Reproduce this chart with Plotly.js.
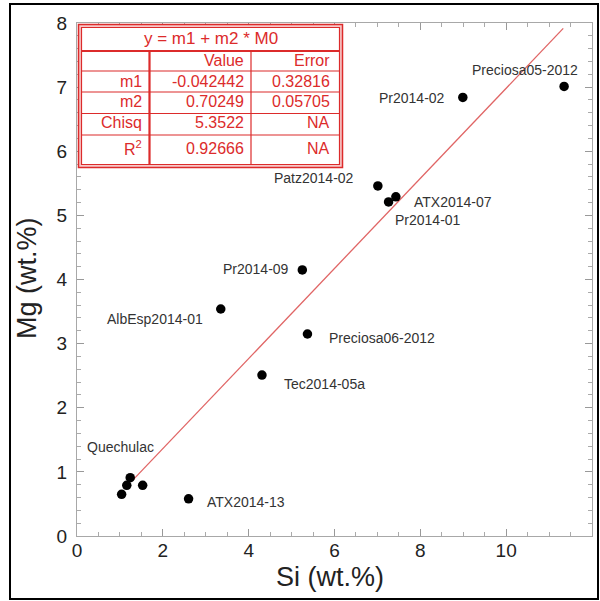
<!DOCTYPE html>
<html>
<head>
<meta charset="utf-8">
<script src="https://cdn.plot.ly/plotly-3.0.1.min.js"></script>
<style>html,body{margin:0;padding:0;background:#fff;}#chart{width:600px;height:601px;}</style>
</head>
<body>
<div id="chart"></div>
<script>
// ---- data ----
const sampleNames = ["Preciosa05-2012","Pr2014-02","Patz2014-02","ATX2014-07","Pr2014-01","Pr2014-09",
  "AlbEsp2014-01","Preciosa06-2012","Tec2014-05a","Quechulac","Quechulac","Quechulac","Quechulac","ATX2014-13"];
const siValues = [11.35, 8.99, 7.01, 7.43, 7.26, 5.25, 3.35, 5.37, 4.31, 1.24, 1.16, 1.04, 1.53, 2.60];
const mgValues = [7.01, 6.84, 5.46, 5.29, 5.21, 4.15, 3.54, 3.15, 2.51, 0.91, 0.79, 0.65, 0.79, 0.58];
const pointLabels = ["Preciosa05-2012","Pr2014-02","Patz2014-02","ATX2014-07","Pr2014-01","Pr2014-09",
  "AlbEsp2014-01","Preciosa06-2012","Tec2014-05a","Quechulac","","","","ATX2014-13"];
const fitM1 = -0.042442;
const fitM2 = 0.70249;
const fitXRange = [1.3, 11.33];
const tableHeader = ["", "Value", "Error"];
const tableRowNames = ["m1", "m2", "Chisq", "R<sup>2</sup>"];
const tableValues = ["-0.042442", "0.70249", "5.3522", "0.92666"];
const tableErrors = ["0.32816", "0.05705", "NA", "NA"];
const tableTitle = "y = m1 + m2 * M0";
const xTitle = "Si (wt.%)";
const yTitle = "Mg (wt.%)";

// ---- label placement (style) ----
const labelStyle = [
  {anchor:"right", dx:16, dy:16.7},
  {anchor:"right", dx:-16, dy:-1},
  {anchor:"right", dx:-22, dy:7.6},
  {anchor:"left", dx:16.5, dy:-5},
  {anchor:"left", dx:4.6, dy:-17.7},
  {anchor:"right", dx:-11, dy:1},
  {anchor:"right", dx:-16, dy:-9.6},
  {anchor:"left", dx:20, dy:-3.8},
  {anchor:"left", dx:20, dy:-9},
  {anchor:"right", dx:26, dy:30.6},
  null, null, null,
  {anchor:"left", dx:16, dy:-3}
];

const FONT = "Liberation Sans, Arial, Helvetica, sans-serif";
const RED = "#dc2b2b";
const M = {l:77, r:8, t:23, b:65};
const W = 600, H = 601;
const PW = W - M.l - M.r, PH = H - M.t - M.b;
const X = p => (p - M.l) / PW;
const Y = p => (H - M.b - p) / PH;

const fitY = fitXRange.map(x => fitM1 + fitM2 * x);

const traces = [
  {type:"scatter", mode:"lines", x:fitXRange, y:fitY, line:{color:"#e06565", width:1.3}, hoverinfo:"skip"},
  {type:"scatter", mode:"markers", x:siValues, y:mgValues, text:sampleNames,
   marker:{color:"#000", size:9.5}}
];

const annotations = [];
pointLabels.forEach((t, i) => {
  const s = labelStyle[i];
  if (!t || !s) return;
  annotations.push({x:siValues[i], y:mgValues[i], xref:"x", yref:"y", text:t, showarrow:false,
    xanchor:s.anchor, yanchor:"middle", xshift:s.dx, yshift:s.dy,
    font:{family:FONT, size:14, color:"#333"}});
});

// axis titles
annotations.push({xref:"paper", yref:"paper", x:X(330), y:Y(577), text:xTitle, showarrow:false,
  xanchor:"center", yanchor:"middle", font:{family:FONT, size:27, color:"#222"}});
annotations.push({xref:"paper", yref:"paper", x:X(27), y:Y(278), text:yTitle, showarrow:false, textangle:-90,
  xanchor:"center", yanchor:"middle", font:{family:FONT, size:27, color:"#222"}});

// table geometry (pixels)
const shapes = [];
const tOut = {x0:78.5, x1:342.5, y0:24.5, y1:167.5};
const tIn = {x0:81.5, x1:339.5, y0:27.5, y1:164.5};
shapes.push({type:"rect", xref:"paper", yref:"paper", x0:X(tOut.x0), x1:X(tOut.x1), y0:Y(tOut.y0), y1:Y(tOut.y1),
  line:{color:RED, width:1.5}, fillcolor:"#f7c9c9"});
shapes.push({type:"rect", xref:"paper", yref:"paper", x0:X(tIn.x0), x1:X(tIn.x1), y0:Y(tIn.y0), y1:Y(tIn.y1),
  line:{color:RED, width:1.2}, fillcolor:"#fff"});
const hLines = [[51, 2.2], [71, 1.2], [92, 1.2], [113.5, 1.2], [135, 1.2]];
hLines.forEach(([py, w]) => shapes.push({type:"line", xref:"paper", yref:"paper",
  x0:X(tIn.x0), x1:X(tIn.x1), y0:Y(py), y1:Y(py), line:{color:RED, width:w}}));
const vLines = [[149.5, 2.2], [251, 1.2]];
vLines.forEach(([px, w]) => shapes.push({type:"line", xref:"paper", yref:"paper",
  x0:X(px), x1:X(px), y0:Y(51), y1:Y(tIn.y1), line:{color:RED, width:w}}));
// figure border
shapes.push({type:"rect", xref:"paper", yref:"paper", x0:X(10), x1:X(598), y0:Y(4), y1:Y(599),
  line:{color:"#000", width:2}, fillcolor:"rgba(0,0,0,0)"});

const tFont = {family:FONT, size:16, color:RED};
annotations.push({xref:"paper", yref:"paper", x:X(210.5), y:Y(38.5), text:tableTitle, showarrow:false,
  xanchor:"center", yanchor:"middle", font:{family:FONT, size:17, color:RED}});
const colRight = [144, 246, 332];
const rowY = [60, 81.5, 101.5, 122, 148];
tableHeader.forEach((h, c) => { if (h) annotations.push({xref:"paper", yref:"paper", x:X(colRight[c]), y:Y(rowY[0]),
  text:h, showarrow:false, xanchor:"right", yanchor:"middle", font:tFont}); });
tableRowNames.forEach((n, r) => {
  const cells = [n, tableValues[r], tableErrors[r]];
  cells.forEach((v, c) => annotations.push({xref:"paper", yref:"paper", x:X(colRight[c]), y:Y(rowY[r+1]),
    text:v, showarrow:false, xanchor:"right", yanchor:"middle", font:tFont}));
});

const axisCommon = {
  showline:true, linecolor:"#a8a8a8", linewidth:1, mirror:"ticks", ticks:"inside", ticklen:7, tickwidth:1,
  tickcolor:"#999", showgrid:false, zeroline:false,
  tickfont:{family:FONT, size:19, color:"#222"},
};
const layout = {
  width:W, height:H, margin:M, paper_bgcolor:"#fff", plot_bgcolor:"#fff", showlegend:false,
  font:{family:FONT},
  xaxis:Object.assign({}, axisCommon, {range:[0,12], dtick:2, tick0:0, ticklabelstandoff:-3,
    minor:{ticks:"inside", ticklen:4, dtick:0.5, tickcolor:"#aaa", showgrid:false}}),
  yaxis:Object.assign({}, axisCommon, {range:[0,8], dtick:1, tick0:0, ticklabelstandoff:5,
    minor:{ticks:"inside", ticklen:4, dtick:0.2, tickcolor:"#aaa", showgrid:false}}),
  annotations:annotations, shapes:shapes
};
Plotly.newPlot("chart", traces, layout, {displayModeBar:false, staticPlot:true});
</script>
</body>
</html>
